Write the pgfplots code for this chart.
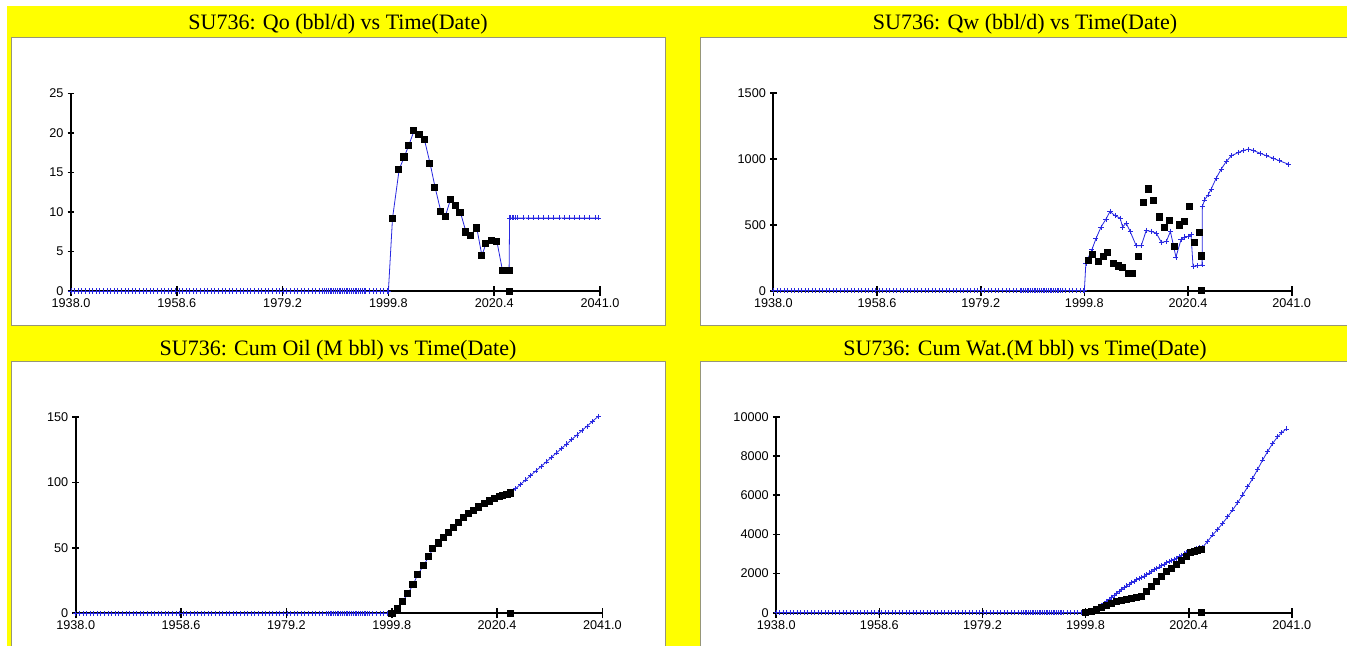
\documentclass[border=0pt]{standalone}
\usepackage{pgfplots}
\pgfplotsset{compat=1.18}
\usepackage{pgfplotstable}
\usepackage{fontspec}
\setmainfont{Liberation Serif}
\newfontfamily\arialfont{Liberation Sans}
\definecolor{yel}{RGB}{255,255,0}
\definecolor{pgray}{RGB}{150,150,120}
\definecolor{simblue}{RGB}{40,40,225}

\pgfplotstableread{
t v
1938.0 0
1938.7 0
1939.4 0
1940.1 0
1940.8 0
1941.5 0
1942.2 0
1942.9 0
1943.6 0
1944.3 0
1945.0 0
1945.7 0
1946.4 0
1947.1 0
1947.8 0
1948.5 0
1949.2 0
1949.9 0
1950.6 0
1951.3 0
1952.0 0
1952.7 0
1953.4 0
1954.1 0
1954.8 0
1955.5 0
1956.2 0
1956.9 0
1957.6 0
1958.3 0
1959.0 0
1959.7 0
1960.4 0
1961.1 0
1961.8 0
1962.5 0
1963.2 0
1963.9 0
1964.6 0
1965.3 0
1966.0 0
1966.7 0
1967.4 0
1968.1 0
1968.8 0
1969.5 0
1970.2 0
1970.9 0
1971.6 0
1972.3 0
1973.0 0
1973.7 0
1974.4 0
1975.1 0
1975.8 0
1976.5 0
1977.2 0
1977.9 0
1978.6 0
1979.3 0
1980.0 0
1980.7 0
1981.4 0
1982.1 0
1982.8 0
1983.5 0
1984.2 0
1984.9 0
1985.6 0
1986.3 0
1987.0 0
1987.35 0
1987.7 0
1988.05 0
1988.4 0
1988.75 0
1989.1 0
1989.45 0
1989.8 0
1990.15 0
1990.5 0
1990.85 0
1991.2 0
1991.55 0
1991.9 0
1992.25 0
1992.6 0
1992.95 0
1993.3 0
1993.65 0
1994.0 0
1994.35 0
1994.7 0
1995.05 0
1995.4 0
1996.1 0
1996.8 0
1997.5 0
1998.2 0
1998.9 0
1999.6 0
}\zerohist

\pgfplotsset{
  panel/.style={
    scale only axis, anchor=south west,
    xmin=1938, xmax=2041, ymin=0,
    axis x line*=bottom, axis y line*=left,
    axis line style={line width=1.5pt,-,black},
    tick align=center,
    scaled x ticks=false, scaled y ticks=false,
    xtick={1938,1958.6,1979.2,1999.8,2020.4,2041},
    xticklabels={1938.0,1958.6,1979.2,1999.8,2020.4,2041.0},
    tick label style={font=\arialfont\fontsize{9.5}{10}\selectfont},
    xtick style={black,line width=1.3pt,/pgfplots/major tick length=7.5pt},
    ytick style={black,line width=1.3pt,/pgfplots/major tick length=5pt},
    minor tick num=0,
    clip=false,
  },
  obs/.style={only marks, mark=square*, mark size=2.3pt, black},
  sim/.style={simblue, line width=0.6pt, mark=+, mark size=1.9pt, mark options={line width=0.5pt}},
  zer/.style={simblue, line width=0.6pt, mark=+, mark size=1.9pt, mark options={line width=0.5pt}},
}

\begin{document}
\begin{tikzpicture}
\useasboundingbox (0,0) rectangle (1010.25pt,-484.5pt);
\clip (0,0) rectangle (1010.25pt,-484.5pt);
\begin{scope}[x=0.75pt,y=-0.75pt]
\fill[white] (0,0) rectangle (1347,646);
\fill[yel] (6.5,5.5) rectangle (1360,660);
\filldraw[fill=white,draw=pgray,line width=0.75pt] (11.5,37.5) rectangle (665.5,325.5);
\filldraw[fill=white,draw=pgray,line width=0.75pt] (700.5,37.5) rectangle (1360,325.5);
\filldraw[fill=white,draw=pgray,line width=0.75pt] (11.5,361.5) rectangle (665.5,660);
\filldraw[fill=white,draw=pgray,line width=0.75pt] (700.5,361.5) rectangle (1360,660);
\node[anchor=base,font=\fontsize{16.5}{19}\selectfont] at (338,30) {SU736: Qo (bbl/d) vs Time(Date)};
\node[anchor=base,font=\fontsize{16.5}{19}\selectfont] at (1025,30) {SU736: Qw (bbl/d) vs Time(Date)};
\node[anchor=base,font=\fontsize{16.5}{19}\selectfont] at (338,355) {SU736: Cum Oil (M bbl) vs Time(Date)};
\node[anchor=base,font=\fontsize{16.5}{19}\selectfont] at (1025,355) {SU736: Cum Wat.(M bbl) vs Time(Date)};
\end{scope}

% ---------- Qo ----------
\begin{axis}[panel, at={(53.25pt,-218.25pt)}, width=396.75pt, height=148.1pt,
  ymax=25, ytick={0,5,10,15,20,25}, yticklabels={0,5,10,15,20,25}]
\addplot[zer] table[x=t,y=v] {\zerohist};
\addplot[sim] table {
x y
1999.8 0
2000.6 9.2
2001.9 15.4
2002.9 17.0
2003.8 18.5
2004.8 20.3
2005.8 19.8
2006.8 19.2
2007.9 16.2
2008.9 13.1
2010.0 10.1
2010.9 9.5
2011.9 11.6
2012.9 10.9
2013.8 10.0
2014.9 7.5
2015.8 7.1
2017.0 8.0
2018.0 4.5
2018.8 6.0
2019.9 6.4
2020.9 6.35
2022.0 2.65
2022.7 2.65
2023.3 2.65
2023.4 9.25
2023.6 9.25
2023.9 9.25
2024.2 9.25
2024.5 9.25
2025.0 9.25
2026.0 9.25
2027.0 9.25
2028.0 9.25
2029.0 9.25
2030.0 9.25
2031.0 9.25
2032.0 9.25
2033.0 9.25
2034.0 9.25
2035.0 9.25
2036.0 9.25
2037.0 9.25
2038.0 9.25
2039.0 9.25
2040.0 9.25
2040.7 9.25
};
\addplot[obs] table {
x y
2000.5 9.2
2001.8 15.4
2002.8 17.0
2003.7 18.5
2004.7 20.3
2005.7 19.8
2006.7 19.2
2007.8 16.2
2008.8 13.1
2009.9 10.1
2010.8 9.5
2011.8 11.6
2012.8 10.9
2013.7 10.0
2014.8 7.5
2015.7 7.1
2016.9 8.0
2017.9 4.5
2018.7 6.0
2019.8 6.4
2020.8 6.35
2021.9 2.65
2022.6 2.65
2023.3 2.65
2023.3 0
};
\end{axis}

% ---------- Qw ----------
\begin{axis}[panel, at={(580.05pt,-218.0pt)}, width=388.7pt, height=148.3pt,
  ymax=1500, ytick={0,500,1000,1500}, yticklabels={0,500,1000,1500}]
\addplot[zer] table[x=t,y=v] {\zerohist};
\addplot[sim] table {
x y
1999.8 0
2000.1 210
2001.3 311
2002.1 394
2003.1 482
2004.1 543
2004.9 601
2005.9 568
2006.9 551
2007.4 483
2008.1 513
2008.9 449
2010.1 341
2011.1 341
2012.1 457
2013.1 449
2014.1 437
2015.1 366
2016.1 374
2016.9 449
2018.0 255
2019.0 386
2019.7 407
2020.4 411
2021.0 424
2021.4 184
2022.2 189
2023.2 195
2023.25 639
2023.7 689
2024.4 727
2025.0 770
2026.0 854
2027.0 922
2028.0 980
2029.0 1023
2030.4 1048
2031.4 1063
2032.4 1074
2033.4 1063
2034.7 1043
2036.0 1023
2037.3 1005
2038.6 985
2040.3 960
};
\addplot[obs] table {
x y
2000.5 230
2001.45 273
2002.6 222
2003.6 260
2004.4 290
2005.6 210
2006.6 189
2007.4 179
2008.6 134
2009.4 129
2010.5 260
2011.5 669
2012.5 773
2013.5 689
2014.6 561
2015.6 480
2016.6 533
2017.6 336
2018.6 500
2019.7 525
2020.6 639
2021.6 366
2022.6 445
2023.0 265
2023.0 0
};
\end{axis}

% ---------- Cum Oil ----------
\begin{axis}[panel, at={(56.8pt,-460.0pt)}, width=395pt, height=147.2pt,
  ymax=150, ytick={0,50,100,150}, yticklabels={0,50,100,150}]
\addplot[zer] table[x=t,y=v] {\zerohist};
\addplot[sim] table {
x y
1999.8 0
2000.9 3.5
2001.9 8.9
2003.0 15.3
2004.0 22.2
2004.9 29.8
2006.1 36.9
2007.0 43.3
2007.9 49.7
2009.0 53.9
2010.0 58.1
2011.0 61.9
2012.0 65.7
2012.9 69.5
2013.9 73.4
2014.9 76.4
2015.9 78.9
2016.9 81.4
2018.0 84.0
2019.0 86.0
2020.0 87.8
2021.0 89.6
2021.6 90.4
2022.4 91.1
2023.0 92.1
2023.3 92.8
2024.0 95.2
2025.0 98.6
2026.0 102.0
2027.0 105.5
2028.0 108.9
2029.0 112.3
2030.0 115.7
2031.0 119.2
2032.0 122.6
2033.0 126.0
2034.0 129.4
2035.0 132.8
2036.0 136.3
2037.0 139.7
2038.0 143.1
2039.0 146.5
2040.2 150.6
};
\addplot[obs] table {
x y
1999.8 0
2000.8 3.5
2001.8 8.9
2002.9 15.3
2003.9 22.2
2004.8 29.8
2006.0 36.9
2006.9 43.3
2007.8 49.7
2008.9 53.9
2009.9 58.1
2010.9 61.9
2011.9 65.7
2012.8 69.5
2013.8 73.4
2014.8 76.4
2015.8 78.9
2016.8 81.4
2017.9 84.0
2018.9 86.0
2019.9 87.8
2020.9 89.6
2021.5 90.4
2022.3 91.1
2022.9 92.1
2022.9 0
};
\end{axis}

% ---------- Cum Wat ----------
\begin{axis}[panel, at={(582.2pt,-459.5pt)}, width=386.6pt, height=146.8pt,
  ymax=10000, ytick={0,2000,4000,6000,8000,10000}, yticklabels={0,2000,4000,6000,8000,10000}]
\addplot[zer] table[x=t,y=v] {\zerohist};
\addplot[sim] table {
x y
1999.8 0
2000.5 60
2001.0 110
2001.5 170
2002.0 230
2002.5 310
2003.0 390
2003.5 485
2004.0 580
2004.5 685
2005.0 790
2005.5 890
2006.0 990
2006.5 1090
2007.0 1190
2007.5 1280
2008.0 1370
2008.5 1455
2009.0 1540
2009.5 1610
2010.0 1680
2010.5 1740
2011.0 1800
2011.5 1875
2012.0 1950
2012.5 2030
2013.0 2110
2013.5 2190
2014.0 2270
2014.5 2340
2015.0 2410
2015.5 2480
2016.0 2550
2016.5 2615
2017.0 2680
2017.5 2735
2018.0 2790
2018.5 2860
2019.0 2930
2019.5 3005
2020.0 3080
2020.5 3140
2021.0 3200
2021.5 3235
2022.0 3270
2022.6 3305
2023.2 3340
2024.2 3650
2025.2 3970
2026.2 4260
2027.2 4568
2028.2 4900
2029.2 5248
2030.2 5620
2031.2 6014
2032.2 6430
2033.2 6868
2034.2 7330
2035.2 7803
2036.2 8240
2037.2 8655
2038.2 8990
2039.0 9200
2039.9 9387
};
\addplot[obs] table {
x y
1999.8 0
2000.95 87
2001.95 174
2002.95 276
2003.95 393
2004.9 480
2005.9 562
2006.9 613
2007.9 685
2008.9 736
2009.9 787
2010.9 818
2011.9 1073
2012.9 1364
2013.9 1620
2014.9 1875
2015.9 2095
2016.9 2269
2017.9 2473
2018.9 2693
2019.9 2862
2020.8 3066
2021.6 3117
2022.2 3204
2022.9 3240
2022.9 0
};
\end{axis}
\end{tikzpicture}
\end{document}
